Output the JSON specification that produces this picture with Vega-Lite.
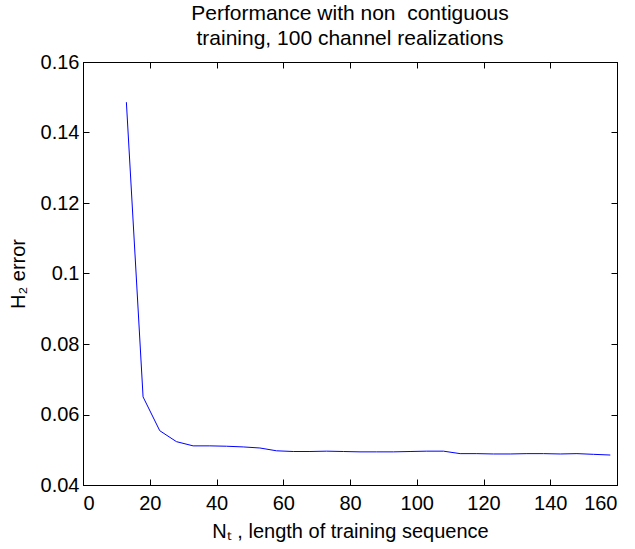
{
  "$schema": "https://vega.github.io/schema/vega-lite/v6.json",
  "width": 534,
  "height": 423,
  "autosize": {"type": "none"},
  "padding": {"left": 83, "top": 62, "right": 18, "bottom": 64},
  "background": "white",
  "config": {
    "font": "Liberation Sans",
    "view": {"stroke": "black", "strokeWidth": 1},
    "axis": {"grid": false, "domainColor": "black", "tickColor": "black", "labelColor": "black", "titleColor": "black", "labelFontSize": 20, "titleFontSize": 20, "titleFontWeight": "normal", "tickSize": -6, "labelPadding": 10, "domainWidth": 1}
  },
  "title": {"text": ["Performance with non\u00a0 contiguous", "training, 100 channel realizations"], "fontSize": 21, "fontWeight": "normal", "font": "Liberation Sans", "color": "black", "offset": 3, "lineHeight": 25},
  "data": {"values": [
    {"n": 13, "e": 0.1486},
    {"n": 18, "e": 0.0650},
    {"n": 23, "e": 0.0554},
    {"n": 28, "e": 0.0523},
    {"n": 33, "e": 0.0511},
    {"n": 38, "e": 0.0511},
    {"n": 43, "e": 0.0510},
    {"n": 48, "e": 0.0508},
    {"n": 53, "e": 0.0505},
    {"n": 58, "e": 0.0497},
    {"n": 63, "e": 0.0495},
    {"n": 68, "e": 0.0495},
    {"n": 73, "e": 0.0496},
    {"n": 78, "e": 0.0495},
    {"n": 83, "e": 0.0494},
    {"n": 88, "e": 0.0494},
    {"n": 93, "e": 0.0494},
    {"n": 98, "e": 0.0495},
    {"n": 103, "e": 0.0496},
    {"n": 108, "e": 0.0496},
    {"n": 113, "e": 0.0489},
    {"n": 118, "e": 0.0489},
    {"n": 123, "e": 0.0488},
    {"n": 128, "e": 0.0488},
    {"n": 133, "e": 0.0489},
    {"n": 138, "e": 0.0489},
    {"n": 143, "e": 0.0488},
    {"n": 148, "e": 0.0489},
    {"n": 153, "e": 0.0487},
    {"n": 158, "e": 0.0485}
  ]},
  "layer": [
    {
      "mark": {"type": "line", "color": "#0000ff", "strokeWidth": 1},
      "encoding": {
        "x": {"field": "n", "type": "quantitative", "scale": {"domain": [0, 160], "nice": false}, "axis": {"values": [0,20,40,60,80,100,120,140,160], "title": "Nₜ , length of training sequence", "titlePadding": 8, "labelPadding": 14}},
        "y": {"field": "e", "type": "quantitative", "scale": {"domain": [0.04, 0.16], "nice": false, "zero": false}, "axis": {"values": [0.04,0.06,0.08,0.1,0.12,0.14,0.16], "format": "~g", "title": "H₂ error", "titlePadding": 12}}
      }
    },
    {
      "mark": {"type": "line", "opacity": 0},
      "encoding": {
        "x": {"field": "n", "type": "quantitative", "scale": {"domain": [0, 160], "nice": false}, "axis": {"orient": "top", "values": [0,20,40,60,80,100,120,140,160], "labels": false, "title": null}},
        "y": {"field": "e", "type": "quantitative", "scale": {"domain": [0.04, 0.16], "nice": false, "zero": false}, "axis": {"orient": "right", "values": [0.04,0.06,0.08,0.1,0.12,0.14,0.16], "labels": false, "title": null}}
      }
    }
  ],
  "resolve": {"axis": {"x": "independent", "y": "independent"}}
}
